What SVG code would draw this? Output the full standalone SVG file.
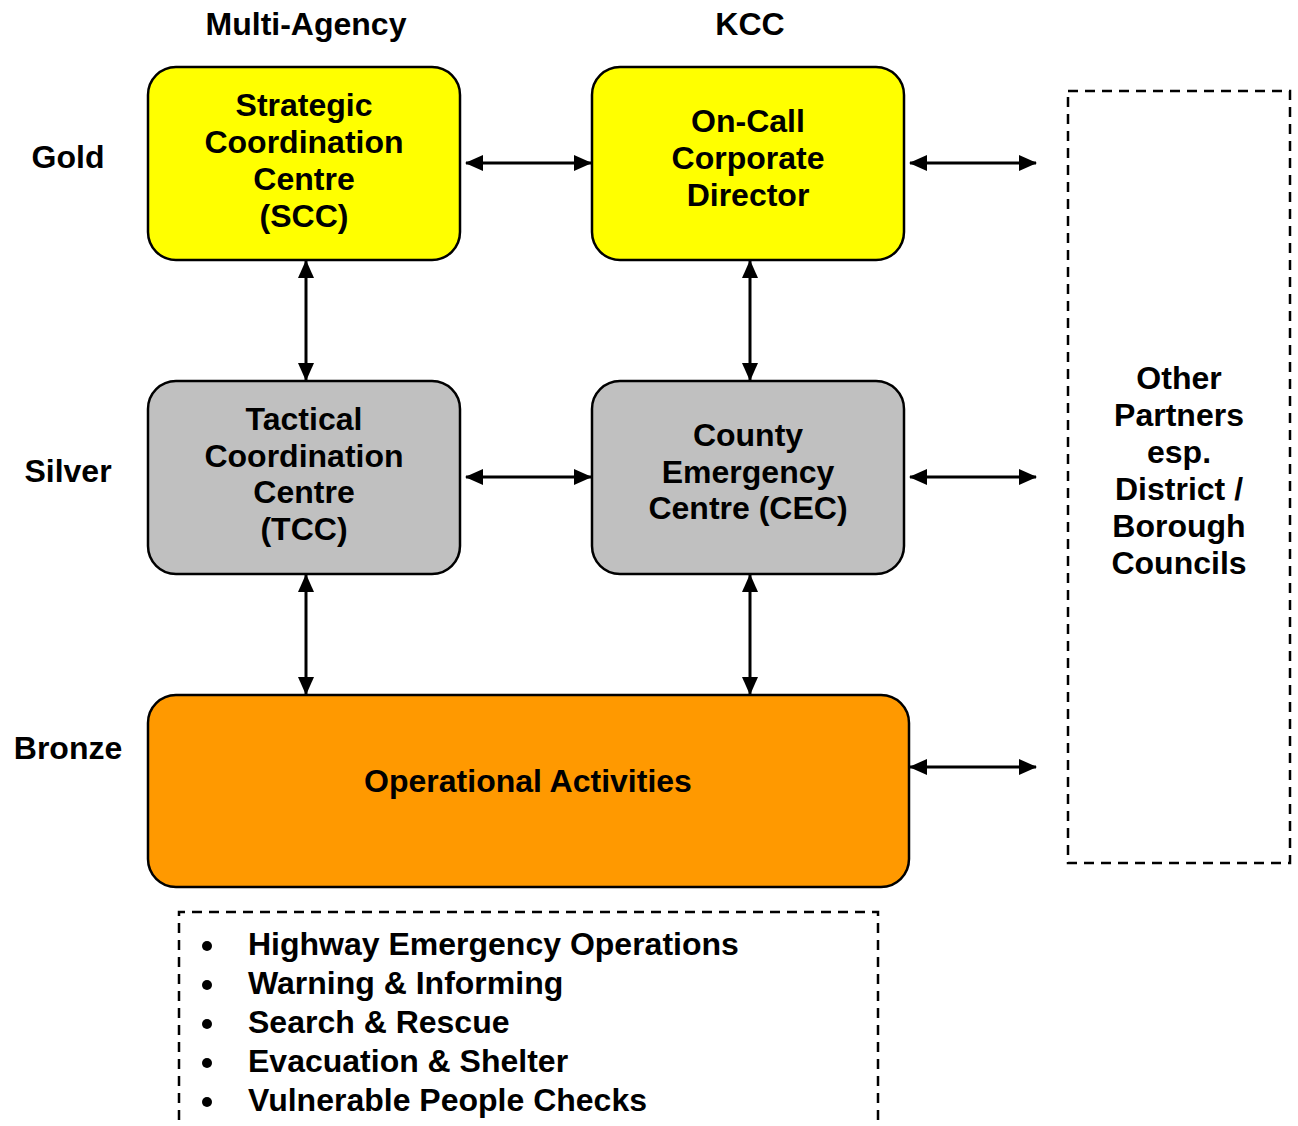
<svg xmlns="http://www.w3.org/2000/svg" width="1298" height="1126" viewBox="0 0 1298 1126">
<defs>
<style>
text{font-family:"Liberation Sans",Arial,sans-serif;font-weight:bold;font-size:32px;fill:#000;text-anchor:middle}
.box{stroke:#000;stroke-width:2.5}
.gold{fill:#FFFF00}
.silver{fill:#C0C0C0}
.bronze{fill:#FF9900}
.dash{fill:none;stroke:#000;stroke-width:2.5;stroke-dasharray:10,7}
.conn line{stroke:#000;stroke-width:3;marker-start:url(#ah);marker-end:url(#ah)}
.bl text{text-anchor:start}
</style>
<marker id="ah" viewBox="0 0 18 16" refX="17" refY="8" markerWidth="18" markerHeight="16" orient="auto-start-reverse" markerUnits="userSpaceOnUse">
<path d="M0,0 L18,8 L0,16 z" fill="#000"/>
</marker>
</defs>
<rect width="1298" height="1126" fill="#fff"/>
<g id="headers">
<text x="306" y="35">Multi-Agency</text>
<text x="750" y="35">KCC</text>
<text x="68" y="168">Gold</text>
<text x="68" y="482">Silver</text>
<text x="68" y="759">Bronze</text>
</g>
<g id="scc">
<rect class="box gold" x="148" y="67" width="312" height="193" rx="28"/>
<text x="304" y="116">Strategic</text>
<text x="304" y="153">Coordination</text>
<text x="304" y="190">Centre</text>
<text x="304" y="227">(SCC)</text>
</g>
<g id="oncall">
<rect class="box gold" x="592" y="67" width="312" height="193" rx="28"/>
<text x="748" y="132">On-Call</text>
<text x="748" y="169">Corporate</text>
<text x="748" y="206">Director</text>
</g>
<g id="tcc">
<rect class="box silver" x="148" y="381" width="312" height="193" rx="28"/>
<text x="304" y="430">Tactical</text>
<text x="304" y="467">Coordination</text>
<text x="304" y="503">Centre</text>
<text x="304" y="540">(TCC)</text>
</g>
<g id="cec">
<rect class="box silver" x="592" y="381" width="312" height="193" rx="28"/>
<text x="748" y="446">County</text>
<text x="748" y="483">Emergency</text>
<text x="748" y="519">Centre (CEC)</text>
</g>
<g id="operational">
<rect class="box bronze" x="148" y="695" width="761" height="192" rx="28"/>
<text x="528" y="792">Operational Activities</text>
</g>
<g id="partners">
<rect class="dash" x="1068" y="91" width="222" height="772"/>
<text x="1179" y="389">Other</text>
<text x="1179" y="426">Partners</text>
<text x="1179" y="463">esp.</text>
<text x="1179" y="500">District /</text>
<text x="1179" y="537">Borough</text>
<text x="1179" y="574">Councils</text>
</g>
<g id="activities" class="bl">
<path class="dash" d="M179,1120 V912 H878 V1120"/>
<circle cx="207" cy="946" r="5"/>
<circle cx="207" cy="985" r="5"/>
<circle cx="207" cy="1024" r="5"/>
<circle cx="207" cy="1063" r="5"/>
<circle cx="207" cy="1102" r="5"/>
<text x="248" y="955">Highway Emergency Operations</text>
<text x="248" y="994">Warning &amp; Informing</text>
<text x="248" y="1033">Search &amp; Rescue</text>
<text x="248" y="1072">Evacuation &amp; Shelter</text>
<text x="248" y="1111">Vulnerable People Checks</text>
</g>
<g id="connectors" class="conn">
<line x1="466" y1="163" x2="591" y2="163"/>
<line x1="910" y1="163" x2="1036" y2="163"/>
<line x1="466" y1="477" x2="591" y2="477"/>
<line x1="910" y1="477" x2="1036" y2="477"/>
<line x1="910" y1="767" x2="1036" y2="767"/>
<line x1="306" y1="261" x2="306" y2="380"/>
<line x1="750" y1="261" x2="750" y2="380"/>
<line x1="306" y1="575" x2="306" y2="694"/>
<line x1="750" y1="575" x2="750" y2="694"/>
</g>
</svg>
